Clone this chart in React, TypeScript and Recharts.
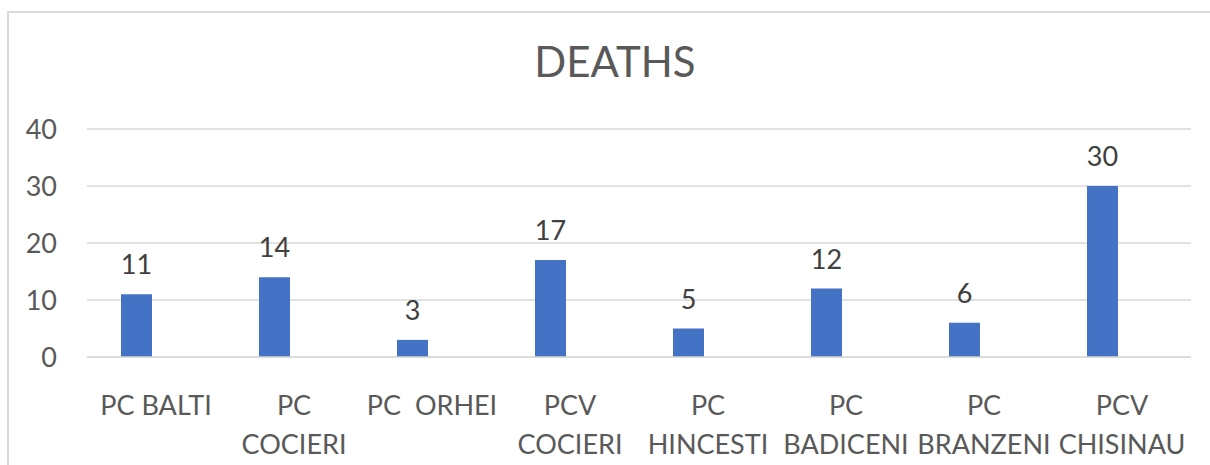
import { Bar, BarChart, CartesianGrid, LabelList, XAxis, YAxis } from "recharts";

const categories = [
  "PC BALTI",
  "PC\nCOCIERI",
  "PC  ORHEI",
  "PCV\nCOCIERI",
  "PC\nHINCESTI",
  "PC\nBADICENI",
  "PC\nBRANZENI",
  "PCV\nCHISINAU",
];
const deaths = [11, 14, 3, 17, 5, 12, 6, 30];
// the source sheet has a second, empty series next to each bar
const blank = [null, null, null, null, null, null, null, null];
const yTicks = [0, 10, 20, 30, 40];

const data = categories.map((name, i) => ({ name, deaths: deaths[i], blank: blank[i] }));

const font = "Lato, 'Open Sans', sans-serif";
const grey = "#595959";
const gridColor = "#D9D9D9";

function CategoryTick({ x, y, payload }: any) {
  const lines = String(payload.value).split("\n");
  return (
    <text x={x} y={y} textAnchor="middle" fill={grey} fontSize={27} fontFamily={font} style={{ whiteSpace: "pre" }}>
      {lines.map((line, i) => (
        <tspan key={i} x={x} y={y + 50 + i * 39} xmlSpace="preserve">
          {line}
        </tspan>
      ))}
    </text>
  );
}

export default function App() {
  return (
    <div style={{ position: "absolute", left: 0, top: 0, width: 1210, height: 465, background: "#fff", overflow: "hidden" }}>
      <div
        style={{
          position: "absolute",
          left: 7,
          top: 11,
          width: 1220,
          height: 470,
          borderLeft: `2px solid ${gridColor}`,
          borderTop: `2px solid ${gridColor}`,
        }}
      />
      <div
        style={{
          position: "absolute",
          left: 0,
          width: 1230,
          top: 31,
          textAlign: "center",
          fontFamily: font,
          fontSize: 42,
          color: grey,
          lineHeight: "60px",
        }}
      >
        DEATHS
      </div>
      <div style={{ position: "absolute", left: 0, top: 0 }}>
        <BarChart
          width={1210}
          height={465}
          data={data}
          margin={{ top: 129, right: 19, bottom: 0, left: 0 }}
          barSize={31}
          barGap={8}
        >
          <CartesianGrid stroke={gridColor} strokeWidth={1.5} vertical={false} />
          <XAxis
            dataKey="name"
            height={108}
            interval={0}
            tickLine={false}
            axisLine={{ stroke: gridColor, strokeWidth: 1.5 }}
            tick={<CategoryTick />}
          />
          <YAxis
            domain={[0, 40]}
            ticks={yTicks}
            width={87}
            tickLine={false}
            axisLine={false}
            tickSize={0}
            tickMargin={30}
            tick={{ fill: grey, fontSize: 27, fontFamily: font }}
          />
          <Bar dataKey="deaths" fill="#4472C4" isAnimationActive={false}>
            <LabelList
              dataKey="deaths"
              position="top"
              offset={20}
              fill="#404040"
              fontSize={27}
              fontFamily={font}
            />
          </Bar>
          <Bar dataKey="blank" fill="#ED7D31" isAnimationActive={false} />
        </BarChart>
      </div>
    </div>
  );
}
